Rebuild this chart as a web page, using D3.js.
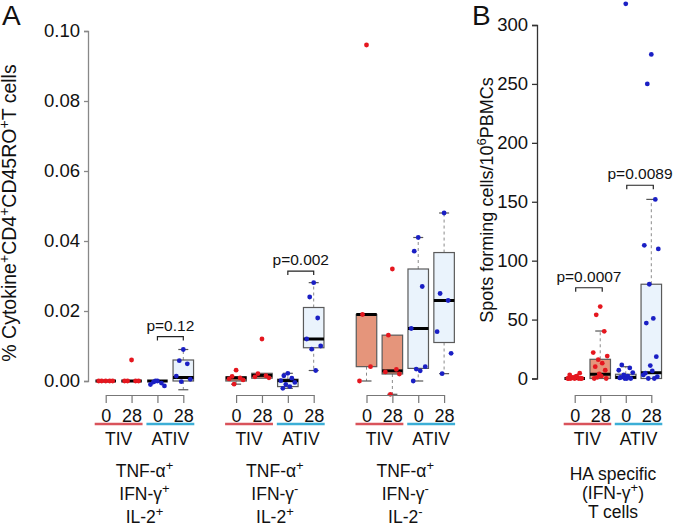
<!DOCTYPE html>
<html>
<head>
<meta charset="utf-8">
<script src="https://cdn.jsdelivr.net/npm/d3@7"></script>
<style>
  body { margin: 0; background: #fff; }
  svg { display: block; font-family: Arial, "Liberation Sans", sans-serif; }
</style>
</head>
<body>
<div id="chart"></div>
<script>
// ---- data ----
const conds = ["TIV 0", "TIV 28", "ATIV 0", "ATIV 28"];
const condTicks = ["0", "28", "0", "28"];
const vaccines = ["TIV", "ATIV"];
const groupsA = ["TNF+IFN+IL2+", "TNF+IFN-IL2+", "TNF+IFN-IL2-"];
const groupLinesA = [
  [["TNF-α", "+"], ["IFN-γ", "+"], ["IL-2", "+"]],
  [["TNF-α", "+"], ["IFN-γ", "-"], ["IL-2", "+"]],
  [["TNF-α", "+"], ["IFN-γ", "-"], ["IL-2", "-"]]
];
const ticksA = [0, 0.02, 0.04, 0.06, 0.08, 0.10];
const ticksB = [0, 50, 100, 150, 200, 250, 300];

// box stats per condition: [q1, median, q3, lower whisker, upper whisker]
const boxA = [
  [[0, 0, 0, 0, 0], [0, 0, 0, 0, 0], [0, 0, 0, 0, 0], [0, 0.001, 0.006, -0.0025, 0.009]],
  [[0, 0.0009, 0.0012, -0.0009, 0.0012], [0.0008, 0.0016, 0.0022, 0.0008, 0.0022],
   [-0.0016, 0.0001, 0.0005, -0.0021, 0.0022], [0.0095, 0.012, 0.021, 0.003, 0.0281]],
  [[0.0041, 0.019, 0.019, 0, 0.019], [0.002, 0.0029, 0.0131, -0.0038, 0.0131],
   [0.0036, 0.015, 0.032, 0, 0.041], [0.011, 0.023, 0.0367, 0.0021, 0.048]]
];
const pointsA = [
  [[0, 0, 0, 0, 0], [0.006, 0, 0, 0, 0],
   [0, -0.0003, -0.0006, -0.001, -0.0014, 0], [0.009, 0.0058, 0.0049, 0.0014, 0.0005, -0.0002]],
  [[0.0031, 0.0013, 0.0009, 0.0006, 0.0003, -0.0009], [0.012, 0.0021, 0.0015, 0.0012, 0.0009],
   [0.0022, 0.0015, 0.0008, 0.0001, -0.0004, -0.001, -0.0016, -0.0021],
   [0.0281, 0.024, 0.018, 0.012, 0.010, 0.0091, 0.003]],
  [[0.096, 0.019, 0.0041, 0], [0.032, 0.0131, 0.0033, 0.0026, 0.002, -0.0038],
   [0.041, 0.0371, 0.027, 0.015, 0.0041, 0.0034, 0.0029, 0],
   [0.048, 0.025, 0.023, 0.0141, 0.0079, 0.0021]]
];
const boxB = [[0, 0, 0, 0, 0], [0, 3.6, 16.3, 0, 40.3], [0, 1, 3.6, 0, 10], [0, 4.9, 80, 0, 152]];
const pointsB = [
  [0, 0, 0, 0, 0, 1, 2, 3, 4.5, 0.5, 1.5, 0, 0],
  [61, 54, 40, 22, 19, 16, 13, 10, 7, 4, 2, 0, 0, 1],
  [318, 11.5, 9, 7, 5, 3, 2, 1, 0, 0, 0, 0.5],
  [275, 250, 152, 113, 110, 80, 51, 47, 18.5, 11, 6.4, 4.5, 1.5, 0, 0, 3]
];
// significance brackets
const pLabelsA = ["p=0.12", "p=0.002"];
const pGroupsA = [0, 1];
const pLevelsA = [0.0127, 0.0314];
const pLabelsB = ["p=0.0007", "p=0.0089"];
const pFromB = [0, 2];
const pLevelsB = [77, 164];

// ---- styles ----
const fills = ["#E5957B", "#E5957B", "#EAF3FC", "#EAF3FC"];
const dotCols = ["#E5171F", "#E5171F", "#1A1FC4", "#1A1FC4"];
const lineCols = ["#D9535B", "#3CAED6"];
const jit = [0, -4, 4, -7, 7, -2, 2, -5, 5, -1, 1, -6, 6, -3, 3, -8];
const textCol = "#111";

const svg = d3.select("#chart").append("svg").attr("width", 677).attr("height", 525);

// ---- scales ----
const yA = d3.scaleLinear().domain([0, 0.1]).range([381, 31]);
const xGroupA = d3.scalePoint().domain(groupsA).range([144.5, 405.3]);
const xInner = d3.scalePoint().domain(conds).range([-38.8, 38.8]);
const yB = d3.scaleLinear().domain([0, 300]).range([378.5, 25]);
const xB = d3.scalePoint().domain(conds).range([574.7, 651.3]);

function drawBox(g, xc, y, st, pts, ci) {
  const [q1, med, q3, lo, hi] = st;
  const bw = 20.5;
  const wh = [[q3, hi], [q1, lo]];
  wh.forEach(([a, b]) => {
    if (a === b) return;
    g.append("line").attr("x1", xc).attr("x2", xc).attr("y1", y(a)).attr("y2", y(b))
      .attr("stroke", "#8a8a8a").attr("stroke-width", 1).attr("stroke-dasharray", "3,3");
    g.append("line").attr("x1", xc - 5).attr("x2", xc + 5).attr("y1", y(b)).attr("y2", y(b))
      .attr("stroke", "#555").attr("stroke-width", 1.2);
  });
  if (q3 > q1) {
    g.append("rect").attr("x", xc - bw / 2).attr("width", bw)
      .attr("y", y(q3)).attr("height", y(q1) - y(q3))
      .attr("fill", fills[ci]).attr("stroke", "#5a5a5a").attr("stroke-width", 1.2);
  }
  g.append("line").attr("x1", xc - bw / 2).attr("x2", xc + bw / 2).attr("y1", y(med)).attr("y2", y(med))
    .attr("stroke", "#000").attr("stroke-width", 3);
  g.selectAll(null).data(pts).enter().append("circle")
    .attr("cx", (d, i) => xc + jit[i % jit.length])
    .attr("cy", d => y(d))
    .attr("r", 2.4)
    .attr("fill", dotCols[ci]);
}

function drawCondAxis(g, xs, x0) {
  const ax = g.append("g").attr("transform", `translate(${x0},395)`)
    .call(d3.axisBottom(xs).tickSizeInner(8).tickSizeOuter(0).tickPadding(6)
      .tickFormat((d, i) => condTicks[i]));
  ax.select(".domain").attr("stroke", "#777").attr("stroke-width", 1.2);
  ax.selectAll(".tick line").attr("stroke", "#777").attr("stroke-width", 1.2);
  ax.selectAll(".tick text").attr("font-size", 18).attr("fill", textCol).attr("font-family", null);
  // vaccine underlines and names
  vaccines.forEach((v, k) => {
    const a = x0 + xs(conds[2 * k]), b = x0 + xs(conds[2 * k + 1]);
    g.append("line").attr("x1", a - 11).attr("x2", b + 11).attr("y1", 424).attr("y2", 424)
      .attr("stroke", lineCols[k]).attr("stroke-width", 2.5);
    g.append("text").attr("x", (a + b) / 2).attr("y", 445).attr("text-anchor", "middle")
      .attr("font-size", 17.5).attr("fill", textCol).text(v);
  });
}

function bracket(g, x1, x2, yTop, label) {
  g.append("path").attr("d", `M${x1},${yTop + 4}V${yTop}H${x2}V${yTop + 4}`)
    .attr("fill", "none").attr("stroke", "#222").attr("stroke-width", 1.2);
  g.append("text").attr("x", (x1 + x2) / 2).attr("y", yTop - 6).attr("text-anchor", "middle")
    .attr("font-size", 15.5).attr("fill", textCol).text(label);
}

// text with superscripts: parts = [[text, sup], ...]; the shift is undone on the next text run
function supRuns(el, parts, supSize) {
  let shift = 0;
  parts.forEach(([t, s]) => {
    el.append("tspan").attr("dy", shift).text(t);
    shift = 0;
    if (s) {
      el.append("tspan").attr("font-size", supSize).attr("dy", -7).text(s);
      shift = 7;
    }
  });
}

// ---- panel A ----
const gA = svg.append("g");
const axA = gA.append("g").attr("transform", "translate(88,0)")
  .call(d3.axisLeft(yA).tickValues(ticksA).tickFormat(d3.format(".2f")).tickSizeOuter(0).tickSize(4).tickPadding(4));
axA.select(".domain").attr("stroke", "#888").attr("stroke-width", 1.3);
axA.selectAll(".tick line").attr("stroke", "#888").attr("stroke-width", 1.3);
axA.selectAll(".tick text").attr("font-size", 18.5).attr("fill", textCol).attr("font-family", null);

groupsA.forEach((grp, gi) => {
  const gx = xGroupA(grp);
  conds.forEach((c, ci) => drawBox(gA, gx + xInner(c), yA, boxA[gi][ci], pointsA[gi][ci], ci));
  drawCondAxis(gA, xInner, gx);
  groupLinesA[gi].forEach(([txt, sup], li) => {
    const tl = gA.append("text").attr("x", gx).attr("y", 477 + li * 23)
      .attr("text-anchor", "middle").attr("font-size", 17.5).attr("fill", textCol);
    tl.append("tspan").text(txt);
    tl.append("tspan").attr("font-size", 13).attr("dy", -7).text(sup);
  });
});
pLabelsA.forEach((lab, k) => {
  const gx = xGroupA(groupsA[pGroupsA[k]]);
  bracket(gA, gx + xInner("ATIV 0"), gx + xInner("ATIV 28"), yA(pLevelsA[k]), lab);
});

const titleA = gA.append("text").attr("transform", "translate(16,213) rotate(-90)")
  .attr("text-anchor", "middle").attr("font-size", 19.5).attr("fill", textCol);
supRuns(titleA, [["% Cytokine", "+"], ["CD4", "+"], ["CD45RO", "+"], ["T cells", null]], 14);
gA.append("text").attr("x", 2).attr("y", 25).attr("font-size", 28).attr("fill", textCol).text("A");

// ---- panel B ----
const gB = svg.append("g");
const axB = gB.append("g").attr("transform", "translate(537,0)")
  .call(d3.axisLeft(yB).tickValues(ticksB).tickSizeOuter(0).tickSize(5).tickPadding(4));
axB.select(".domain").attr("stroke", "#333").attr("stroke-width", 1.3);
axB.selectAll(".tick line").attr("stroke", "#333").attr("stroke-width", 1.3);
axB.selectAll(".tick text").attr("font-size", 18.5).attr("fill", textCol).attr("font-family", null);

conds.forEach((c, ci) => drawBox(gB, xB(c), yB, boxB[ci], pointsB[ci], ci));
drawCondAxis(gB, xB, 0);
pLabelsB.forEach((lab, k) => {
  bracket(gB, xB(conds[pFromB[k]]) + 1, xB(conds[pFromB[k] + 1]) + 2, yB(pLevelsB[k]), lab);
});

const xcB = (xB(conds[0]) + xB(conds[3])) / 2;
gB.append("text").attr("x", xcB).attr("y", 480).attr("text-anchor", "middle")
  .attr("font-size", 17.5).attr("fill", textCol).text("HA specific");
const l2 = gB.append("text").attr("x", xcB).attr("y", 499).attr("text-anchor", "middle")
  .attr("font-size", 17.5).attr("fill", textCol);
supRuns(l2, [["(IFN-γ", "+"], [")", null]], 13);
gB.append("text").attr("x", xcB).attr("y", 518).attr("text-anchor", "middle")
  .attr("font-size", 17.5).attr("fill", textCol).text("T cells");

const titleB = gB.append("text").attr("transform", "translate(493,200) rotate(-90)")
  .attr("text-anchor", "middle").attr("font-size", 18).attr("fill", textCol);
supRuns(titleB, [["Spots forming cells/10", "6"], ["PBMCs", null]], 13);
gB.append("text").attr("x", 472).attr("y", 25).attr("font-size", 28).attr("fill", textCol).text("B");
</script>
</body>
</html>
